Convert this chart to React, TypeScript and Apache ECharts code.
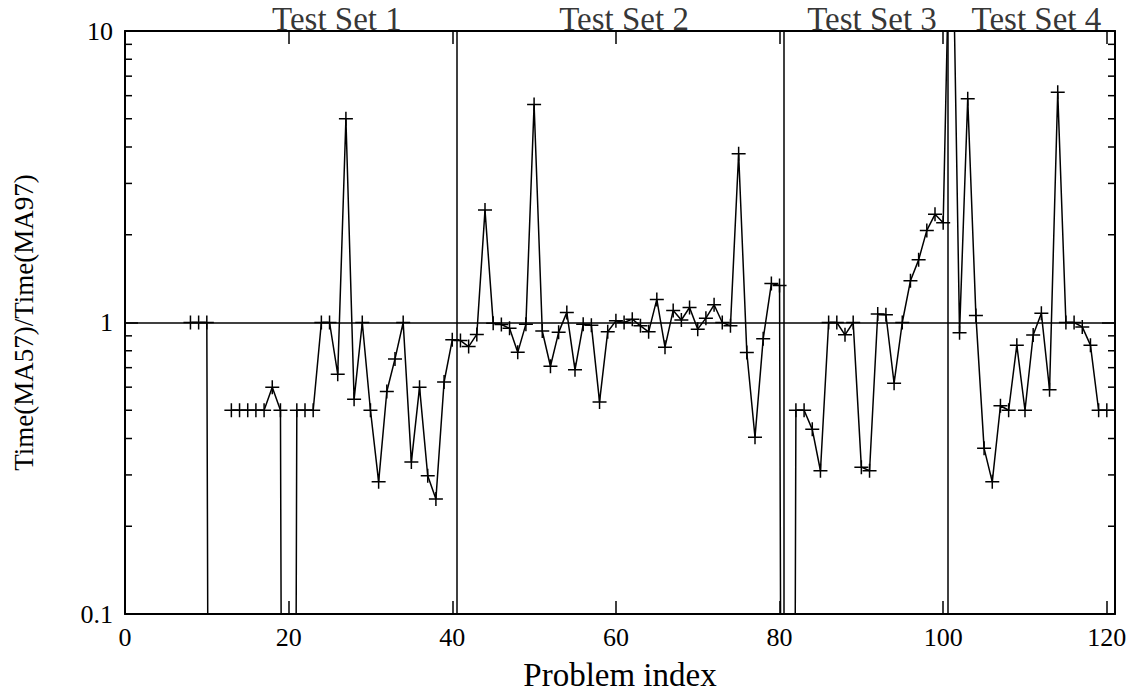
import React, { useEffect, useRef } from "react";
import * as echarts from "echarts";

// ---- data (problem index starts at 8) ----
const FIRST_INDEX = 8;
// below-range values (drawn as drops to the bottom of the log axis)
const TINY = 1e-9;
const testSet1 = [1, 1, 1, TINY, null, 0.5, 0.5, 0.5, 0.5, 0.5, 0.6, 0.5, TINY, 0.5, 0.5, 0.5, 1.0, 1.0, 0.665, 5.0, 0.545, 1.0, 0.5, 0.284, 0.58, 0.75, 1.0, 0.332, 0.6, 0.298, 0.248, 0.625, 0.872];
const testSet2 = [0.867, 0.827, 0.91, 2.43, 0.995, 0.984, 0.955, 0.79, 0.987, 5.6, 0.935, 0.708, 0.925, 1.083, 0.688, 0.986, 0.979, 0.534, 0.93, 1.013, 1.0, 1.027, 0.974, 0.929, 1.2, 0.823, 1.1, 1.02, 1.126, 0.949, 1.035, 1.15, 1.0, 0.974, 3.79, 0.789, 0.404, 0.879, 1.36, 1.34];
const testSet3 = [TINY, 0.5, 0.5, 0.43, 0.31, 1.0, 1.0, 0.907, 1.0, 0.319, 0.31, 1.07, 1.063, 0.619, 1.0, 1.39, 1.64, 2.07, 2.35, 2.2];
const testSet4 = [45, 0.922, 5.85, 1.056, 0.37, 0.284, 0.518, 0.5, 0.836, 0.5, 0.906, 1.075, 0.588, 6.16, 1.0, 1.0, 0.966, 0.836, 0.5, 0.5];

const setBoundaries = [40.5, 80.5, 100.5];
const setTitles = ["Test Set 1", "Test Set 2", "Test Set 3", "Test Set 4"];
const setTitleX = [25.9, 61.0, 91.3, 111.4];

const xTicks = [0, 20, 40, 60, 80, 100, 120];
const X_MIN = 0;
const X_MAX = 121;
const Y_MIN = 0.1;
const Y_MAX = 10;
const yMinorTicks = [0.2, 0.3, 0.4, 0.5, 0.6, 0.7, 0.8, 0.9, 2, 3, 4, 5, 6, 7, 8, 9];

const FONT = "Liberation Serif";
const FS = 26;

const PLUS =
  "path://M12.5,0H15.5V12.5H28V15.5H15.5V28H12.5V15.5H0V12.5H12.5Z";

export default function App() {
  const ref = useRef<HTMLDivElement>(null);
  useEffect(() => {
    if (!ref.current) return;
    const chart = echarts.init(ref.current, null, { renderer: "svg" });
    const values = [...testSet1, ...testSet2, ...testSet3, ...testSet4];
    const points = values.map((v, i) => [FIRST_INDEX + i, v === null ? "-" : v]);

    const axisLine = { show: true, onZero: false, lineStyle: { color: "#000", width: 2 } };
    const axisTick = { show: true, inside: true, length: 13, lineStyle: { color: "#000", width: 1.5 } };
    const labelStyle = { color: "#000", fontSize: FS, fontFamily: FONT };

    const option: any = {
      animation: false,
      textStyle: { fontFamily: FONT, color: "#000" },
      grid: { left: 125, right: 27, top: 31, bottom: 82, show: false },
      xAxis: [
        {
          type: "value",
          min: X_MIN,
          max: X_MAX,
          interval: 20,
          position: "bottom",
          axisLine,
          axisTick,
          splitLine: { show: false },
          axisLabel: {
            ...labelStyle,
            margin: 10,
            formatter: (v: number) => (xTicks.includes(v) ? String(v) : ""),
          },
          name: "Problem index",
          nameLocation: "middle",
          nameGap: 44,
          nameTextStyle: { ...labelStyle, fontSize: 33 },
        },
        {
          type: "value",
          min: X_MIN,
          max: X_MAX,
          interval: 20,
          position: "top",
          axisLine,
          axisTick,
          splitLine: { show: false },
          axisLabel: { show: false },
        },
      ],
      yAxis: [
        {
          type: "log",
          logBase: 10,
          min: Y_MIN,
          max: Y_MAX,
          position: "left",
          axisLine,
          axisTick,
          splitLine: { show: false },
          axisLabel: {
            ...labelStyle,
            margin: 12,
            formatter: (v: number) => (v >= 1 ? String(Math.round(v)) : v.toFixed(1)),
          },
          name: "Time(MA57)/Time(MA97)",
          nameLocation: "middle",
          nameRotate: 90,
          nameGap: 88,
          nameTextStyle: { ...labelStyle, fontSize: 27 },
        },
        {
          type: "log",
          logBase: 10,
          min: Y_MIN,
          max: Y_MAX,
          position: "right",
          axisLine,
          axisTick,
          splitLine: { show: false },
          axisLabel: { show: false },
        },
      ],
      series: [
        {
          type: "line",
          xAxisIndex: 0,
          yAxisIndex: 0,
          data: points,
          connectNulls: false,
          clip: true,
          symbol: PLUS,
          symbolSize: 14,
          showSymbol: true,
          showAllSymbol: true,
          lineStyle: { color: "#000", width: 1.5 },
          itemStyle: { color: "#000" },
          markLine: {
            silent: true,
            symbol: ["none", "none"],
            label: { show: false },
            lineStyle: { color: "#000", width: 1.5, type: "solid" },
            data: [...setBoundaries.map((x) => ({ xAxis: x })), { yAxis: 1 }],
          },
          z: 3,
        },
        {
          type: "scatter",
          xAxisIndex: 0,
          yAxisIndex: 0,
          clip: false,
          symbolSize: 1,
          itemStyle: { color: "rgba(0,0,0,0)" },
          data: setTitleX.map((x, i) => ({ value: [x, Y_MAX], name: setTitles[i] })),
          label: {
            show: true,
            position: "top",
            distance: -3,
            formatter: (p: any) => p.name,
            ...labelStyle,
            fontSize: 33,
            lineHeight: 30,
          },
        },
        {
          type: "custom",
          xAxisIndex: 0,
          yAxisIndex: 0,
          clip: false,
          silent: true,
          data: yMinorTicks.map((v) => [X_MIN, v]),
          encode: { x: 0, y: 1 },
          renderItem: (_params: any, api: any) => {
            const v = api.value(1);
            const pl = api.coord([X_MIN, v]);
            const pr = api.coord([X_MAX, v]);
            const style = { stroke: "#000", lineWidth: 1.5 };
            return {
              type: "group",
              children: [
                { type: "line", shape: { x1: pl[0], y1: pl[1], x2: pl[0] + 7, y2: pl[1] }, style },
                { type: "line", shape: { x1: pr[0], y1: pr[1], x2: pr[0] - 7, y2: pr[1] }, style },
              ],
            };
          },
        },
      ],
    };
    chart.setOption(option);
    return () => chart.dispose();
  }, []);
  return (
    <div
      ref={ref}
      style={{ position: "absolute", left: 0, top: 0, width: 1142, height: 696, background: "#fff" }}
    />
  );
}
